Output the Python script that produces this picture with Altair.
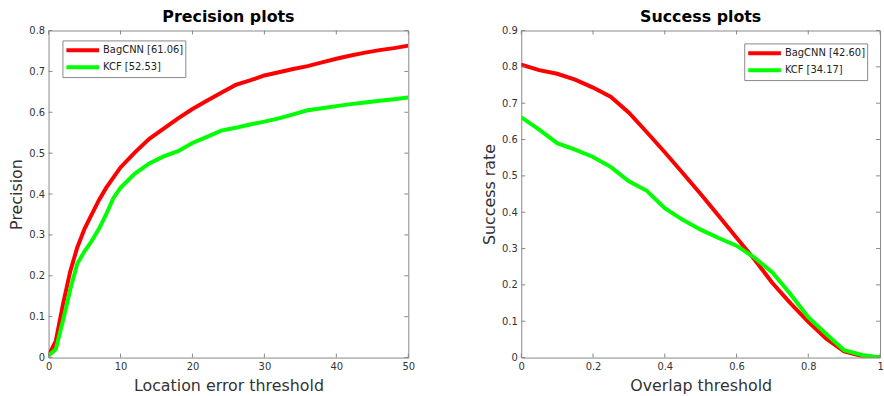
import altair as alt
import pandas as pd

# ---------------- data ----------------
prec_x = [0, 1, 2, 3, 4, 5, 6, 7, 8, 9, 10, 12, 14, 16, 18, 20, 22, 24, 26, 28,
          30, 32, 34, 36, 38, 40, 42, 44, 46, 48, 50]
prec_bagcnn = [0.005, 0.04, 0.13, 0.21, 0.27, 0.315, 0.35, 0.385, 0.415, 0.44, 0.465,
               0.502, 0.535, 0.56, 0.585, 0.608, 0.628, 0.648, 0.667, 0.678,
               0.69, 0.698, 0.706, 0.713, 0.722, 0.731, 0.739, 0.746, 0.752, 0.757, 0.763]
prec_kcf = [0.005, 0.02, 0.09, 0.165, 0.23, 0.26, 0.285, 0.315, 0.35, 0.39, 0.415,
            0.45, 0.475, 0.492, 0.505, 0.525, 0.54, 0.555, 0.562, 0.57,
            0.577, 0.585, 0.595, 0.605, 0.61, 0.615, 0.62, 0.624, 0.628, 0.632, 0.636]

succ_x = [0, 0.05, 0.1, 0.15, 0.2, 0.25, 0.3, 0.35, 0.4, 0.45, 0.5, 0.55, 0.6, 0.65,
          0.7, 0.75, 0.8, 0.85, 0.9, 0.95, 1.0]
succ_bagcnn = [0.806, 0.791, 0.781, 0.765, 0.743, 0.717, 0.674, 0.62, 0.565, 0.508,
               0.45, 0.39, 0.33, 0.27, 0.205, 0.15, 0.098, 0.052, 0.017, 0.004, 0.0]
succ_kcf = [0.661, 0.627, 0.59, 0.572, 0.552, 0.524, 0.485, 0.459, 0.411, 0.379,
            0.352, 0.329, 0.308, 0.275, 0.234, 0.175, 0.111, 0.065, 0.02, 0.007, 0.0]

prec_labels = ["BagCNN [61.06]", "KCF [52.53]"]
succ_labels = ["BagCNN [42.60]", "KCF [34.17]"]
series_colors = ["#ff0000", "#00ff00"]

prec_xticks = [0, 10, 20, 30, 40, 50]
prec_yticks = [0, 0.1, 0.2, 0.3, 0.4, 0.5, 0.6, 0.7, 0.8]
succ_xticks = [0, 0.2, 0.4, 0.6, 0.8, 1]
succ_yticks = [0, 0.1, 0.2, 0.3, 0.4, 0.5, 0.6, 0.7, 0.8, 0.9]

FONT = "DejaVu Sans"
TXT = "#333333"
FRAME = "#888888"
TICKLEN = 4


def panel(xs, bag, kcf, labels, xticks, yticks, xdom, ydom, title, xtitle, ytitle,
          lx, ly, W, H):
    df = pd.DataFrame({
        "x": xs + xs,
        "v": bag + kcf,
        "series": [labels[0]] * len(xs) + [labels[1]] * len(xs),
    })
    xsc = alt.Scale(domain=xdom, nice=False, zero=False)
    ysc = alt.Scale(domain=ydom, nice=False, zero=False)
    xax = alt.Axis(values=xticks, title=xtitle, grid=False, domain=False, format="~r",
                   ticks=False, labelPadding=4, labelFontSize=10,
                   labelFont=FONT, labelColor=TXT, titleFont=FONT,
                   titleFontSize=16, titleFontWeight="normal",
                   titleColor=TXT, titlePadding=6, labelFlush=False)
    yax = alt.Axis(values=yticks, title=ytitle, grid=False, domain=False, format="~r",
                   ticks=False, labelPadding=4, labelFontSize=10,
                   labelFont=FONT, labelColor=TXT, titleFont=FONT,
                   titleFontSize=16, titleFontWeight="normal",
                   titleColor=TXT, titlePadding=4, labelFlush=False)

    lines = alt.Chart(df).mark_line(strokeWidth=4, clip=True).encode(
        x=alt.X("x:Q", scale=xsc, axis=xax),
        y=alt.Y("v:Q", scale=ysc, axis=yax),
        color=alt.Color("series:N", sort=labels,
                        scale=alt.Scale(domain=labels, range=series_colors),
                        legend=alt.Legend(title=None, orient="none", legendX=lx, legendY=ly,
                                          strokeColor=FRAME, fillColor="white", padding=2,
                                          symbolType="M-2.75,0H2.75", symbolSize=144,
                                          symbolStrokeWidth=4, symbolOffset=10.5,
                                          labelOffset=12.5, labelFontSize=10,
                                          labelFont=FONT, labelColor="#222222",
                                          rowPadding=1, cornerRadius=0)),
    )

    xt = pd.DataFrame({"x": xticks})
    yt = pd.DataFrame({"v": yticks})
    bottom = alt.Chart(xt).mark_rule(color=FRAME, strokeWidth=1).encode(
        x=alt.X("x:Q", scale=xsc, axis=xax),
        y=alt.value(H), y2=alt.value(H - TICKLEN))
    top = alt.Chart(xt).mark_rule(color=FRAME, strokeWidth=1).encode(
        x=alt.X("x:Q", scale=xsc, axis=xax),
        y=alt.value(0), y2=alt.value(TICKLEN))
    left = alt.Chart(yt).mark_rule(color=FRAME, strokeWidth=1).encode(
        y=alt.Y("v:Q", scale=ysc, axis=yax),
        x=alt.value(0), x2=alt.value(TICKLEN))
    right = alt.Chart(yt).mark_rule(color=FRAME, strokeWidth=1).encode(
        y=alt.Y("v:Q", scale=ysc, axis=yax),
        x=alt.value(W - TICKLEN), x2=alt.value(W))

    return alt.layer(lines, bottom, top, left, right).properties(
        width=W, height=H,
        title=alt.TitleParams(title, font=FONT, fontSize=16, fontWeight="bold",
                              color="black", offset=1, anchor="middle", frame="group"),
    )


p1 = panel(prec_x, prec_bagcnn, prec_kcf, prec_labels, prec_xticks, prec_yticks,
           [0, 50], [0, 0.8], "Precision plots", "Location error threshold", "Precision",
           14, 10, 363, 330)
p2 = panel(succ_x, succ_bagcnn, succ_kcf, succ_labels, succ_xticks, succ_yticks,
           [0, 1], [0, 0.9], "Success plots", "Overlap threshold", "Success rate",
           225, 13, 362, 330)

chart = alt.hconcat(p1, p2, spacing=114, bounds="flush").resolve_scale(
    color="independent", x="independent", y="independent"
).resolve_legend(color="independent").configure_view(
    stroke=FRAME, strokeWidth=1
).properties(
    padding={"left": 8, "top": 6, "right": 0, "bottom": 0},
    background="white",
)

chart.save("out.html", embed_options={"renderer": "svg", "actions": False})
